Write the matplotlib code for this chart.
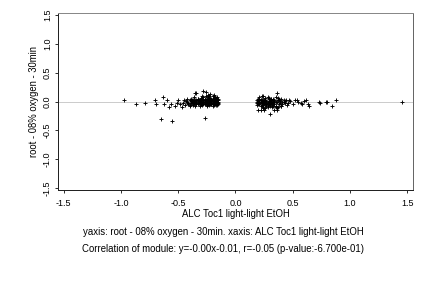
import matplotlib
matplotlib.use("Agg")
import matplotlib.pyplot as plt

# values
left_x = [-0.97, -0.87, -0.79, -0.70, -0.69, -0.63, -0.60, -0.65, -0.55, -0.27,
          -0.62, -0.58, -0.56, -0.53, -0.51, -0.50, -0.48, -0.47, -0.45, -0.44,
          -0.42, -0.41, -0.40, -0.39, -0.38, -0.36, -0.35, -0.34, -0.28, -0.26,
          -0.24, -0.22, -0.46, -0.43, -0.37, -0.33, -0.31, -0.30, -0.29, -0.32,
          -0.36, -0.34, -0.33, -0.31, -0.30, -0.29, -0.28, -0.27, -0.26, -0.25,
          -0.24, -0.23, -0.22, -0.21, -0.20, -0.19, -0.18, -0.17, -0.16, -0.15,
          -0.35, -0.33, -0.32, -0.30, -0.28, -0.27, -0.25, -0.24, -0.22, -0.21,
          -0.20, -0.19, -0.18, -0.17, -0.16, -0.15, -0.34, -0.31, -0.29, -0.27,
          -0.26, -0.25, -0.23, -0.22, -0.20, -0.19, -0.18, -0.17, -0.16, -0.15,
          -0.30, -0.28, -0.26, -0.24, -0.23, -0.21, -0.20, -0.19, -0.18, -0.17,
          -0.16, -0.15, -0.25, -0.23, -0.21, -0.19, -0.17, -0.16, -0.29, -0.27,
          -0.25, -0.22, -0.20, -0.18, -0.23, -0.21, -0.19,
          -0.42, -0.41, -0.40, -0.39, -0.38, -0.37, -0.36, -0.35, -0.34, -0.33,
          -0.32, -0.31, -0.30, -0.29, -0.28, -0.27, -0.26, -0.25, -0.24, -0.23,
          -0.22, -0.21, -0.20, -0.19, -0.18, -0.17, -0.16, -0.40, -0.38, -0.36,
          -0.34, -0.32, -0.30, -0.28, -0.26, -0.24, -0.22, -0.20, -0.18, -0.16,
          -0.39, -0.37, -0.35, -0.33, -0.31, -0.29, -0.27, -0.25, -0.23, -0.21,
          -0.19, -0.17, -0.15]
left_y = [0.02, -0.05, -0.02, 0.03, -0.05, 0.08, 0.03, -0.31, -0.33, -0.29,
          -0.05, -0.09, -0.04, -0.07, -0.02, 0.02, -0.05, -0.10, 0.03, -0.06,
          0.04, -0.03, -0.08, 0.05, -0.01, 0.07, 0.15, 0.14, 0.19, 0.16,
          0.12, 0.13, -0.03, 0.01, -0.06, 0.04, -0.08, 0.06, 0.09, -0.02,
          0.02, -0.04, 0.01, 0.03, -0.05, 0.02, -0.01, 0.05, -0.03, 0.01,
          0.04, -0.06, 0.02, -0.02, 0.03, 0.06, -0.04, 0.01, 0.03, 0.00,
          -0.07, 0.05, -0.03, 0.00, 0.07, -0.05, -0.02, 0.08, -0.04, 0.05,
          -0.01, -0.06, 0.04, -0.03, 0.07, -0.04, 0.03, 0.01, -0.03, 0.02,
          0.09, -0.07, 0.03, 0.06, -0.07, 0.02, 0.08, -0.06, -0.02, 0.05,
          0.03, -0.04, 0.00, -0.03, 0.10, 0.01, 0.05, -0.03, 0.00, 0.03,
          -0.06, 0.02, 0.05, -0.01, -0.04, 0.11, 0.06, -0.01, -0.06, 0.01,
          -0.06, -0.05, 0.09, -0.02, 0.02, -0.05, 0.04,
          -0.01, -0.04, 0.02, -0.03, 0.01, -0.05, 0.00, 0.02, -0.02, -0.04,
          0.01, -0.02, 0.02, -0.04, 0.03, -0.02, 0.01, -0.04, 0.00, 0.03,
          0.00, -0.03, 0.01, -0.04, 0.00, 0.02, -0.02, -0.06, 0.03, -0.03,
          0.00, 0.02, -0.04, 0.00, 0.03, -0.04, 0.01, -0.05, 0.01, -0.05,
          0.01, 0.03, -0.01, 0.02, 0.00, 0.04, -0.01, 0.03, -0.02, 0.02,
          -0.02, 0.03, -0.02]

right_x = [0.55, 0.63, 0.74, 0.80, 0.84, 0.88, 1.45, 0.30, 0.36, 0.23,
           0.62, 0.64, 0.79, 0.73, 0.58, 0.52, 0.50, 0.47, 0.45, 0.43,
           0.20, 0.22, 0.25, 0.34, 0.36, 0.21, 0.24, 0.26, 0.28, 0.31,
           0.33, 0.35, 0.38, 0.40, 0.42, 0.19, 0.20, 0.22, 0.23, 0.25,
           0.27, 0.29, 0.30, 0.32, 0.34, 0.37, 0.39, 0.41, 0.44, 0.19,
           0.21, 0.23, 0.24, 0.26, 0.28, 0.29, 0.31, 0.33, 0.35, 0.36,
           0.38, 0.40, 0.43, 0.20, 0.22, 0.24, 0.27, 0.30, 0.32, 0.34,
           0.37, 0.39, 0.41, 0.46, 0.21, 0.25, 0.27, 0.29, 0.33, 0.36,
           0.38, 0.42, 0.48, 0.26, 0.31, 0.35, 0.40, 0.54, 0.57, 0.60,
           0.28, 0.32, 0.24, 0.37,
           0.19, 0.20, 0.21, 0.22, 0.23, 0.24, 0.25, 0.26, 0.27, 0.28,
           0.29, 0.30, 0.31, 0.19, 0.21, 0.23, 0.25, 0.27, 0.29, 0.31,
           0.20, 0.22, 0.24, 0.26, 0.28, 0.30, 0.32, 0.34, 0.33, 0.35]
right_y = [0.00, -0.04, -0.03, 0.00, -0.07, 0.03, -0.01, -0.22, 0.14, 0.10,
           0.02, -0.07, 0.00, -0.01, -0.05, 0.02, -0.04, 0.03, -0.06, 0.01,
           -0.14, -0.14, -0.15, -0.14, -0.15, 0.07, 0.09, 0.06, 0.08, 0.05,
           0.04, 0.07, 0.02, 0.04, 0.03, 0.00, -0.03, 0.02, -0.06, 0.01,
           -0.02, 0.04, -0.08, 0.00, -0.05, 0.03, -0.03, -0.01, 0.02, -0.06,
           0.04, 0.01, -0.09, 0.03, -0.05, 0.01, -0.03, 0.02, -0.07, 0.00,
           -0.04, -0.07, -0.03, 0.05, -0.08, 0.02, 0.00, -0.04, -0.10, 0.03,
           -0.09, 0.01, -0.05, -0.02, -0.02, -0.03, -0.07, 0.06, -0.08, -0.11,
           0.05, 0.00, 0.01, -0.12, 0.02, -0.10, -0.08, 0.02, -0.03, 0.01,
           -0.10, -0.06, -0.11, 0.06,
           -0.02, 0.01, -0.04, -0.01, 0.02, -0.03, 0.00, -0.05, 0.01, -0.02,
           -0.04, 0.02, -0.01, 0.02, 0.00, -0.02, 0.03, -0.04, 0.00, 0.04,
           -0.05, 0.03, -0.06, 0.02, -0.06, 0.01, -0.05, 0.01, -0.03, -0.01]

x_ticks = [-1.5, -1.0, -0.5, 0.0, 0.5, 1.0, 1.5]
y_ticks = [-1.5, -1.0, -0.5, 0.0, 0.5, 1.0, 1.5]

x_label = "ALC Toc1 light-light EtOH"
y_label = "root - 08% oxygen - 30min"
caption1 = "yaxis: root - 08% oxygen - 30min. xaxis: ALC Toc1 light-light EtOH"
caption2 = "Correlation of module: y=-0.00x-0.01, r=-0.05 (p-value:-6.700e-01)"

plt.rcParams['font.family'] = ['Liberation Sans', 'DejaVu Sans']

fig = plt.figure(figsize=(6, 4), dpi=72)
ax = fig.add_axes([0.134, 0.340, 0.822, 0.615])

ax.axhline(0, color="#cccccc", lw=1, zorder=1)
ax.plot(left_x, left_y, "+", color="black", ms=4.5, mew=0.9, zorder=2)
ax.plot(right_x, right_y, "+", color="black", ms=4.5, mew=0.9, zorder=2)

ax.set_xlim(-1.55, 1.55)
ax.set_ylim(-1.53, 1.53)
ax.set_xticks(x_ticks)
ax.set_yticks(y_ticks)
ax.set_xticklabels(["%.1f" % v for v in x_ticks], fontsize=9)
ax.set_yticklabels(["%.1f" % v for v in y_ticks], fontsize=9, rotation=90, va="center")
ax.tick_params(axis="x", direction="out", length=3, width=0.8, pad=6)
ax.tick_params(axis="y", direction="out", length=3, width=0.8, pad=3)

ax.spines["left"].set_color("#222222")
ax.spines["bottom"].set_color("#222222")
ax.spines["top"].set_color("#888888")
ax.spines["right"].set_color("#666666")
for s in ax.spines.values():
    s.set_linewidth(1.0)

ax.set_xlabel(x_label, fontsize=9.5, labelpad=1)
ax.set_ylabel(y_label, fontsize=9.5, labelpad=4)

fig.text(0.517, 0.194, caption1, ha="center", va="center", fontsize=9.6)
fig.text(0.517, 0.135, caption2, ha="center", va="center", fontsize=9.6)

fig.savefig("out.png", dpi=72)
